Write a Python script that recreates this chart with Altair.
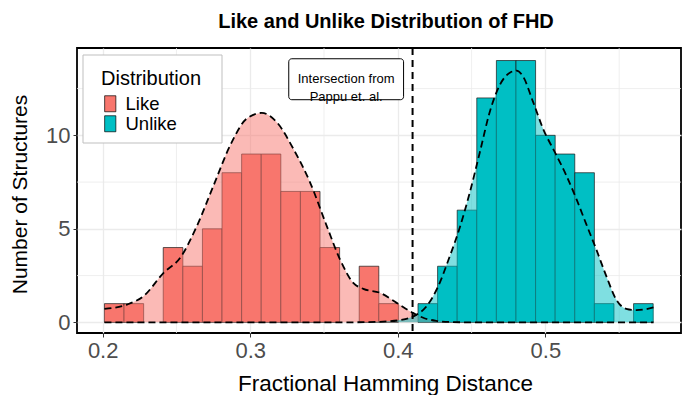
import altair as alt
import pandas as pd

# ---- data ----
bin_start = 0.2012
bin_width = 0.01328
like_counts = [1, 1, 0, 4, 3, 5, 8, 9, 9, 7, 7, 4, 0, 3, 1,
               0, 0, 0, 0, 0, 0, 0, 0, 0, 0, 0, 0, 0]
unlike_counts = [0, 0, 0, 0, 0, 0, 0, 0, 0, 0, 0, 0, 0, 0, 0, 0,
                 1, 3, 6, 12, 14, 14, 10, 9, 8, 1, 0, 1]

like_dens_x = [0.2012, 0.2165, 0.2277, 0.2413, 0.2526, 0.2639, 0.2751, 0.2864, 0.2977,
               0.3078, 0.3180, 0.3292, 0.3405, 0.3518, 0.3608, 0.3698, 0.3766, 0.3879,
               0.3992, 0.4104, 0.4180, 0.4260, 0.4350, 0.4500, 0.4800, 0.5200, 0.5733]
like_dens_y = [0.72, 0.95, 1.40, 2.65, 3.46, 5.16, 7.31, 9.46, 10.9,
               11.2, 10.7, 9.28, 7.49, 5.16, 3.37, 2.11, 1.79, 1.58,
               1.04, 0.50, 0.22, 0.08, 0.02, 0.0, 0.0, 0.0, 0.0]
unlike_dens_x = [0.2012, 0.3000, 0.3600, 0.3800, 0.3900, 0.4014, 0.4116, 0.4195, 0.4269,
                 0.4353, 0.4420, 0.4488, 0.4556, 0.4623, 0.4691, 0.4759, 0.4804, 0.4849,
                 0.4916, 0.4984, 0.5070, 0.5142, 0.5210, 0.5277, 0.5345, 0.5413, 0.5480,
                 0.5548, 0.5616, 0.5680, 0.5733]
unlike_dens_y = [0.0, 0.0, 0.0, 0.01, 0.04, 0.12, 0.36, 0.86, 1.85,
                 3.55, 5.07, 6.95, 9.10, 11.25, 12.69, 13.35, 13.46, 13.14,
                 11.8, 10.36, 9.01, 7.85, 6.60, 5.25, 3.90, 2.47, 1.22,
                 0.72, 0.65, 0.70, 0.80]

groups = ["Like", "Unlike"]
colors = ["#F8766D", "#00BFC4"]
intersection = [0.41]
note_x, note_y = [0.365], [13]
note_text = ["Intersection from\nPappu et. al."]
x_ticks = [0.2, 0.3, 0.4, 0.5]
y_ticks = [0, 5, 10]
minor_x = [0.25, 0.35, 0.45, 0.55]
minor_y = [2.5, 7.5, 12.5]

FONT = "Liberation Sans"
# half size of the note box, in axis units (style)
BOX_HALF_W = 0.0389
BOX_HALF_H = 1.095

# ---- tables ----
rows = []
for g, counts in zip(groups, [like_counts, unlike_counts]):
    for i, c in enumerate(counts):
        lo = bin_start + i * bin_width
        rows.append({"Distribution": g, "lo": lo, "hi": lo + bin_width, "count": c, "base": 0})
bars_df = pd.DataFrame(rows)

dens_rows = []
for g, xs, ys in zip(groups, [like_dens_x, unlike_dens_x], [like_dens_y, unlike_dens_y]):
    for x, y in zip(xs, ys):
        dens_rows.append({"Distribution": g, "x": x, "d": y})
dens_df = pd.DataFrame(dens_rows)

xscale = alt.Scale(domain=[0.1826, 0.5919], nice=False, zero=False)
yscale = alt.Scale(domain=[-0.57, 14.67], nice=False, zero=False)
fill_scale = alt.Scale(domain=groups, range=colors)

x_axis = alt.Axis(values=x_ticks, format=".1f", title="Fractional Hamming Distance",
                  grid=True, titleX=308, titleY=57, titleBaseline="alphabetic",
                  titleFontSize=22.5)
y_axis = alt.Axis(values=y_ticks, format="d", title="Number of Structures",
                  grid=True, titleX=-57, titleY=146, titleBaseline="middle",
                  titleFontSize=21)

minor_gx = alt.Chart(pd.DataFrame({"v": minor_x})).mark_rule(
    color="#EBEBEB", strokeWidth=0.8).encode(x=alt.X("v:Q", scale=xscale, axis=x_axis))
minor_gy = alt.Chart(pd.DataFrame({"v": minor_y})).mark_rule(
    color="#EBEBEB", strokeWidth=0.8).encode(y=alt.Y("v:Q", scale=yscale, axis=y_axis))

# frame behind the legend (legend itself is drawn by the library)
legend_frame = alt.Chart(pd.DataFrame({"k": [0]})).mark_rect(
    fill="white", stroke="#BFBFBF", strokeWidth=1).encode(
    x=alt.value(6), x2=alt.value(145), y=alt.value(7), y2=alt.value(95))

bars = alt.Chart(bars_df).transform_filter("datum.count > 0").mark_rect(
    stroke="#1a1a1a", strokeWidth=0.7, opacity=1).encode(
    x=alt.X("lo:Q", scale=xscale, axis=x_axis),
    x2="hi:Q",
    y=alt.Y("count:Q", scale=yscale, axis=y_axis),
    y2="base:Q",
    fill=alt.Fill("Distribution:N", scale=fill_scale,
                  legend=alt.Legend(title="Distribution")),
)

dens_area = alt.Chart(dens_df).mark_area(fillOpacity=0.5, interpolate="monotone").encode(
    x=alt.X("x:Q", scale=xscale, axis=x_axis),
    y=alt.Y("d:Q", scale=yscale, axis=y_axis, stack=None),
    fill=alt.Fill("Distribution:N", scale=fill_scale, legend=None),
)
dens_line = alt.Chart(dens_df).mark_line(
    color="black", strokeDash=[7, 4], strokeWidth=1.8, interpolate="monotone").encode(
    x=alt.X("x:Q", scale=xscale, axis=x_axis),
    y=alt.Y("d:Q", scale=yscale, axis=y_axis),
    detail="Distribution:N",
)

vline = alt.Chart(pd.DataFrame({"v": intersection})).mark_rule(
    color="black", strokeDash=[7, 5], strokeWidth=2).encode(
    x=alt.X("v:Q", scale=xscale, axis=x_axis))

note_df = pd.DataFrame({"x": note_x, "y": note_y, "t": note_text})
note_box = alt.Chart(note_df).transform_calculate(
    x0=f"datum.x - {BOX_HALF_W}", x1=f"datum.x + {BOX_HALF_W}",
    y0=f"datum.y - {BOX_HALF_H}", y1=f"datum.y + {BOX_HALF_H}",
).mark_rect(fill="white", stroke="black", strokeWidth=1, cornerRadius=3).encode(
    x=alt.X("x0:Q", scale=xscale, axis=x_axis), x2="x1:Q",
    y=alt.Y("y0:Q", scale=yscale, axis=y_axis), y2="y1:Q")
note_txt = alt.Chart(note_df).mark_text(
    fontSize=13, font=FONT, lineBreak="\n", lineHeight=18, align="center",
    baseline="middle", color="black").encode(
    x=alt.X("x:Q", scale=xscale, axis=x_axis),
    y=alt.Y("y:Q", scale=yscale, axis=y_axis),
    text="t:N")

chart = alt.layer(minor_gx, minor_gy, legend_frame, bars, dens_area, dens_line, vline,
                  note_box, note_txt).properties(
    width=604, height=285,
    title=alt.Title("Like and Unlike Distribution of FHD", fontSize=20, fontWeight="bold",
                    font=FONT, anchor="middle", frame="group", dx=7, offset=15,
                    color="black"),
    autosize=alt.AutoSizeParams(type="none"),
    padding={"left": 69, "top": 40, "right": 2, "bottom": 70},
).configure(font=FONT).configure_view(
    stroke="black", strokeWidth=1.8
).configure_axis(
    labelFont=FONT, titleFont=FONT, labelFontSize=22,
    labelColor="#4D4D4D", titleColor="black", titleFontWeight="normal",
    tickColor="#333333", tickSize=4, tickWidth=1, labelPadding=3,
    domain=False, gridColor="#EBEBEB", gridWidth=1.3,
).configure_legend(
    orient="none", legendX=24, legendY=20.5, padding=0,
    strokeColor="transparent", fillColor="transparent",
    titleFont=FONT, labelFont=FONT, titleFontSize=20, labelFontSize=18.5,
    titleFontWeight="normal", titleColor="black", labelColor="black",
    titlePadding=6, rowPadding=0, labelOffset=6,
    symbolType="M-0.7,-1H0.7V1H-0.7Z", symbolSize=256,
    symbolStrokeColor="black", symbolStrokeWidth=0.7, symbolFillColor="white",
)

chart.save("out.html", embed_options={"renderer": "svg", "actions": False})
